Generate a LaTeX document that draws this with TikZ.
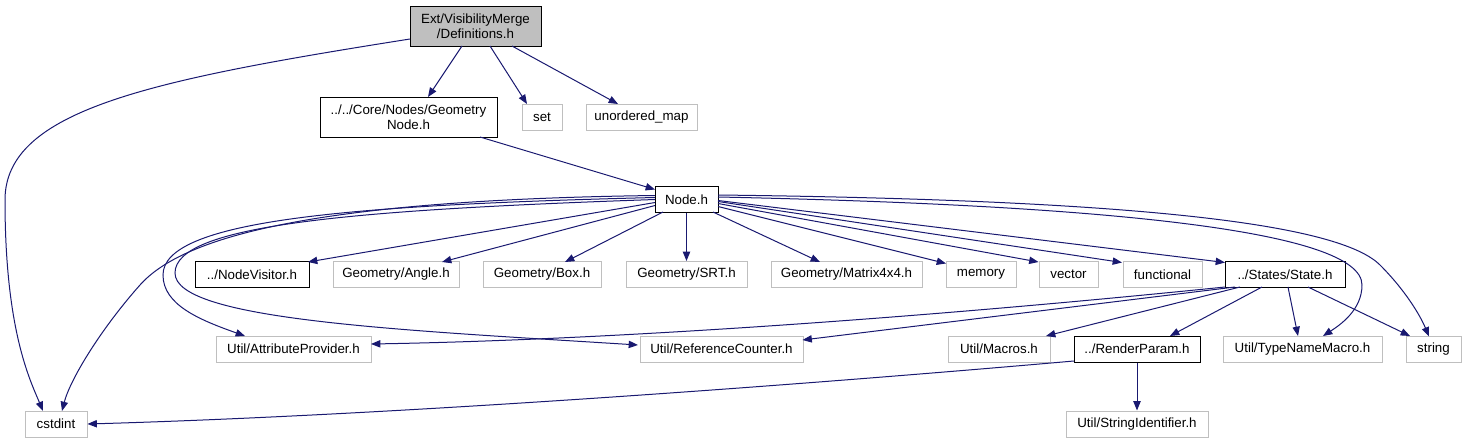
\documentclass[tikz,border=0pt]{standalone}
\usepackage{fontspec}
\setmainfont{Liberation Sans}
\usetikzlibrary{calc, arrows.meta}
\definecolor{EdgeBlue}{HTML}{191970}
\definecolor{Grey}{HTML}{BFBFBF}
\tikzset{
    incnode/.style={rectangle, draw=black, fill=white, line width=0.75pt, inner sep=0pt, minimum height=19.5pt, align=center, font=\fontsize{10}{11.5}\selectfont},
    sysnode/.style={incnode, draw=Grey},
    rootnode/.style={incnode, fill=Grey, minimum height=30pt},
    dep/.style={-{Triangle[length=7pt,width=5.5pt]}, line width=0.75pt, color=EdgeBlue},
}
\begin{document}
\begin{tikzpicture}[x=0.75pt, y=-0.75pt]
\useasboundingbox (0,0) rectangle (1465,443);

% Ebene 0/1
\node[rootnode, minimum width=98.25pt] (def) at (475.5,26) {Ext/VisibilityMerge\\/Definitions.h};
\node[incnode, minimum width=132.75pt, minimum height=30pt] (geom) at (408.5,117) {../../Core/Nodes/Geometry\\Node.h};
\node[sysnode, minimum width=30pt] (set) at (542,117) {set};
\node[sysnode, minimum width=83.25pt] (umap) at (641.5,117) {unordered\_map};
\node[incnode, minimum width=47.25pt] (nodeh) at (686.5,199.5) {Node.h};

% Ebene 2
\node[incnode, minimum width=85.5pt] (visitor) at (252,274.5) {../NodeVisitor.h};
\node[sysnode, minimum width=94.5pt] (angle) at (396,274.5) {Geometry/Angle.h};
\node[sysnode, minimum width=88.5pt] (box) at (542,274.5) {Geometry/Box.h};
\node[sysnode, minimum width=90.75pt] (srt) at (686.5,274.5) {Geometry/SRT.h};
\node[sysnode, minimum width=113.25pt] (matrix) at (846.5,274.5) {Geometry/Matrix4x4.h};
\node[sysnode, minimum width=52.5pt] (memory) at (981,274.5) {memory};
\node[sysnode, minimum width=44.25pt] (vector) at (1068.5,274.5) {vector};
\node[sysnode, minimum width=59.25pt] (functional) at (1162.5,274.5) {functional};
\node[incnode, minimum width=90pt] (state) at (1285,274.5) {../States/State.h};

% Ebene 3
\node[sysnode, minimum width=116.25pt] (attr) at (293.5,349) {Util/AttributeProvider.h};
\node[sysnode, minimum width=122.25pt] (refc) at (721.5,349) {Util/ReferenceCounter.h};
\node[sysnode, minimum width=76.5pt] (macros) at (999,349) {Util/Macros.h};
\node[incnode, minimum width=94.5pt] (render) at (1137,349) {../RenderParam.h};
\node[sysnode, minimum width=119.25pt] (typename) at (1302.5,349) {Util/TypeNameMacro.h};
\node[sysnode, minimum width=41.25pt] (string) at (1433.5,349) {string};

% Ebene 4
\node[sysnode, minimum width=46.5pt] (cstdint) at (56,424) {cstdint};
\node[sysnode, minimum width=106.5pt] (strid) at (1137,424) {Util/StringIdentifier.h};

% Kanten von Definitions.h
\draw[dep] ($(def)+(-65.5,13)$) .. controls (150,80) and (5,110) .. (5,200)
    .. controls (5,330) and (30,380) .. ($(cstdint)+(-13,-13)$);
\draw[dep] ($(def)+(-13.5,20)$) -- ($(geom)+(19.5,-20)$);
\draw[dep] ($(def)+(14.5,20)$) -- ($(set)+(-15,-13)$);
\draw[dep] ($(def)+(36.5,20)$) -- ($(umap)+(-23.5,-13)$);
\draw[dep] ($(geom)+(71.5,20)$) -- ($(nodeh)+(-31.5,-10)$);

% Kanten von Node.h
\draw[dep] ($(nodeh)+(-31.5,3)$) -- ($(visitor)+(56,-12.5)$);
\draw[dep] ($(nodeh)+(-31.5,6)$) -- ($(angle)+(46,-12.5)$);
\draw[dep] ($(nodeh)+(-23.5,12.5)$) -- ($(box)+(23,-12.5)$);
\draw[dep] (nodeh) -- (srt);
\draw[dep] ($(nodeh)+(26.5,12.5)$) -- ($(matrix)+(-26.5,-12.5)$);
\draw[dep] ($(nodeh)+(31.5,7)$) -- ($(memory)+(-35,-11)$);
\draw[dep] ($(nodeh)+(31.5,4)$) -- ($(vector)+(-30,-12.5)$);
\draw[dep] ($(nodeh)+(31.5,2)$) -- ($(functional)+(-40.5,-12)$);
\draw[dep] ($(nodeh)+(31.5,1)$) -- ($(state)+(-60,-12)$);
\draw[dep] ($(nodeh)+(31.5,-2.5)$) .. controls (1100,205) and (1362,230) .. (1362,285)
    .. controls (1362,310) and (1340,325) .. ($(typename)+(20.5,-13)$);
\draw[dep] ($(nodeh)+(31.5,-4.5)$) .. controls (1150,200) and (1340,225) .. (1380,265)
    .. controls (1405,290) and (1420,315) .. ($(string)+(-4.5,-12.5)$);
\draw[dep] ($(nodeh)+(-31.5,-4)$) .. controls (300,200) and (180,240) .. (140,285)
    .. controls (100,330) and (70,380) .. ($(cstdint)+(6,-13)$);
\draw[dep] ($(nodeh)+(-31.5,-2)$) .. controls (350,205) and (163,220) .. (163,275)
    .. controls (163,305) and (200,320) .. ($(attr)+(-48.5,-13)$);
\draw[dep] ($(nodeh)+(-31.5,0)$) .. controls (350,210) and (175,225) .. (175,273)
    .. controls (175,320) and (400,330) .. ($(refc)+(-83.5,-4)$);

% Kanten von State.h
\draw[dep] ($(state)+(-60,12.5)$) .. controls (900,320) and (600,340) .. ($(attr)+(77.5,-5)$);
\draw[dep] ($(state)+(-50,12.5)$) -- ($(refc)+(81,-9)$);
\draw[dep] ($(state)+(-45,12.5)$) -- ($(macros)+(47,-13)$);
\draw[dep] ($(state)+(-23,12.5)$) -- ($(render)+(33,-13)$);
\draw[dep] ($(state)+(3,12.5)$) -- ($(typename)+(-4.5,-13)$);
\draw[dep] ($(state)+(23,12.5)$) -- ($(string)+(-23.5,-13)$);

% Kanten von RenderParam.h
\draw[dep] ($(render)+(-63,12)$) .. controls (800,385) and (400,415) .. (cstdint.east);
\draw[dep] (render) -- (strid);

\end{tikzpicture}
\end{document}
